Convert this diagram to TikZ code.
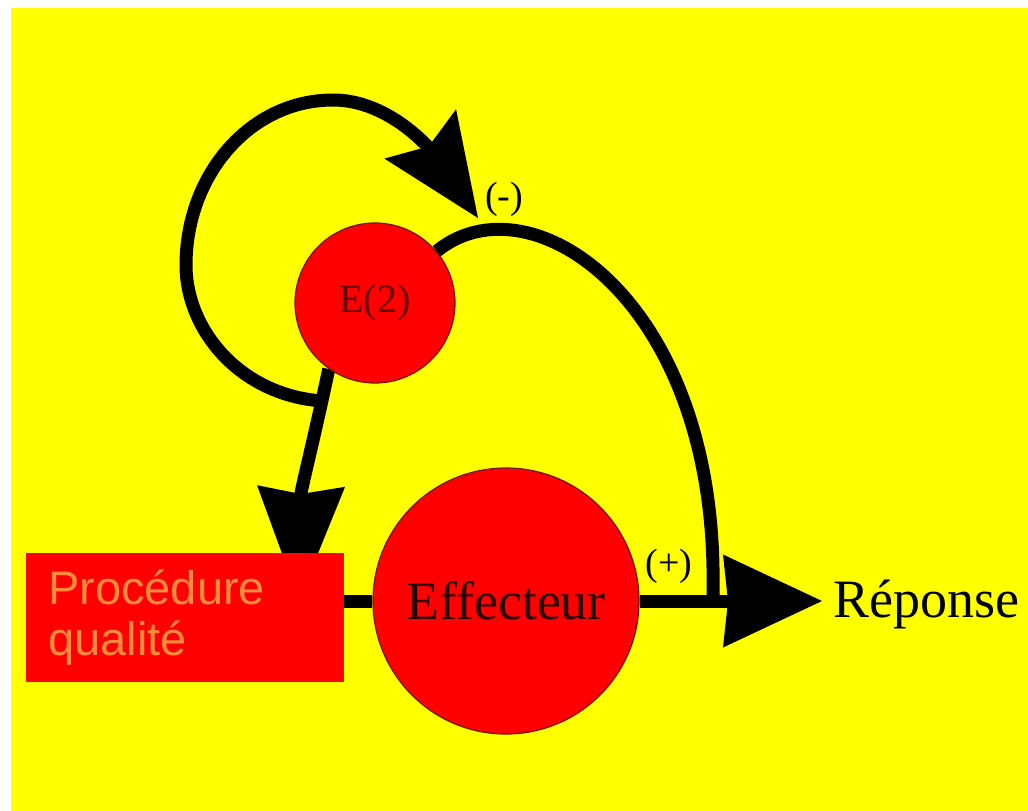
\documentclass[tikz,border=0pt]{standalone}
\usepackage{fontspec}
\setmainfont{Liberation Serif}
\setsansfont{Liberation Sans}
\usetikzlibrary{arrows.meta}

\definecolor{jaune}{RGB}{255,255,0}
\definecolor{rouge}{RGB}{255,0,0}
\definecolor{bordure}{RGB}{110,20,10}
\definecolor{texteE}{RGB}{100,0,0}
\definecolor{texteEff}{RGB}{40,0,0}
\definecolor{texteQualite}{RGB}{255,140,60}

\pgfdeclarelayer{fond}
\pgfdeclarelayer{liens}
\pgfsetlayers{fond,liens,main}

\tikzset{
  bulle/.style={circle, draw=bordure, line width=1.2pt, fill=rouge, inner sep=0pt},
  trait/.style={line width=13pt, black},
  signe/.style={inner sep=0pt, font=\fontsize{38}{42}\selectfont},
  boite/.style={rectangle, fill=rouge, minimum width=318pt, minimum height=129pt,
    text width=274pt, inner xsep=22pt, align=left, text=texteQualite,
    font=\sffamily\fontsize{47}{51}\selectfont}
}

\begin{document}
\begin{tikzpicture}[x=1pt, y=1pt]
\useasboundingbox (0,0) rectangle (1028,-811);
\begin{pgfonlayer}{fond}
  \fill[white] (0,0) rectangle (1028,-811);
  \fill[jaune] (11,-8) rectangle (1028,-811);
\end{pgfonlayer}

% Cercles
\node[bulle, minimum size=160pt, text=texteE, font=\fontsize{40}{44}\selectfont] (E2) at (375,-303) {E(2)};
\node[bulle, minimum size=266pt, text=texteEff, font=\fontsize{54}{60}\selectfont] (Effecteur) at (506,-601) {Effecteur};

% Signes et sortie
\node[signe] (Moins) at (504,-199) {(-)};
\node[signe] (Plus) at (669,-566) {(+)};
\node[inner sep=0pt, anchor=base west, font=\fontsize{54}{60}\selectfont] (Reponse) at (833,-617) {Réponse};

\coordinate (Split) at (322,-401);
\coordinate (Tip) at (299,-600);
\coordinate (Join) at (713,-601);

\begin{pgfonlayer}{liens}
  % boucle de retour
  \draw[trait, -{Stealth[length=102pt, width=87pt, inset=15pt, line width=0pt]}]
    (Split) .. controls (240,-395) and (186,-330) .. (186,-265)
    .. controls (186,-175) and (250,-100) .. (333,-100)
    .. controls (400,-100) and (445,-170) .. (478,-218);
  % arc vers la sortie
  \draw[trait] (E2.40) .. controls (530,-175) and (718,-300) .. (713,-590) -- (Join);
  % fleche vers le bas
  \draw[trait, -{Stealth[length=114pt, width=88pt, inset=8pt, line width=0pt]}]
    (E2.235) .. controls (316,-430) and (301,-490) .. (Tip);
\end{pgfonlayer}

% Boite
\node[boite, anchor=north west] (Procedure) at (26,-553) {Procédure\\qualité};

\begin{pgfonlayer}{liens}
  \draw[trait] (Procedure.east |- Effecteur.west) -- (Effecteur.west);
  \draw[trait, shorten >=11pt, -{Stealth[length=99pt, width=93pt, inset=5pt, line width=0pt]}]
    (Effecteur.east) -- (Effecteur.east -| Reponse.west);
\end{pgfonlayer}

\end{tikzpicture}
\end{document}
